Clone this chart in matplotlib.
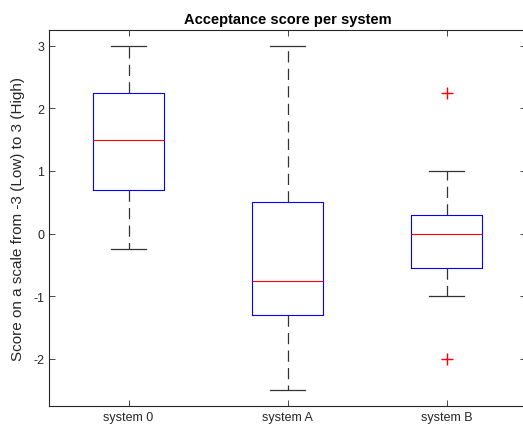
import matplotlib
matplotlib.use("Agg")
import matplotlib.pyplot as plt

# box statistics
systems = ["system 0", "system A", "system B"]
medians = [1.5, -0.75, 0.0]
q1 = [0.7, -1.3, -0.55]
q3 = [2.25, 0.5, 0.3]
whislo = [-0.25, -2.5, -1.0]
whishi = [3.0, 3.0, 1.0]
outliers = [[], [], [2.25, -2.0]]

plt.rcParams['font.family'] = ['Liberation Sans', 'DejaVu Sans']

stats = []
for i in range(len(systems)):
    stats.append(dict(label=systems[i], med=medians[i], q1=q1[i], q3=q3[i],
                      whislo=whislo[i], whishi=whishi[i], fliers=outliers[i]))

fig = plt.figure(figsize=(5.23, 4.35), dpi=100)
ax = fig.add_axes([49/523, 28/435, 477/523, 376/435])

ax.bxp(stats, widths=0.45, capwidths=0.225, showfliers=True,
       boxprops=dict(color='blue', linewidth=0.8),
       medianprops=dict(color='red', linewidth=0.8),
       whiskerprops=dict(color='#333333', linestyle=(0, (9, 5)), linewidth=0.9),
       capprops=dict(color='#333333', linewidth=0.9),
       flierprops=dict(marker='+', color='red', markeredgecolor='red',
                       markerfacecolor='red', markersize=8,
                       markeredgewidth=1.0, linestyle='none'))

ax.set_xlim(0.5, 3.5)
ax.set_ylim(-2.75, 3.25)
ax.set_yticks([-2, -1, 0, 1, 2, 3])
ax.set_yticklabels(['-2', '-1', '0', '1', '2', '3'])
ax.tick_params(direction='in', top=True, right=True, labelsize=9, colors='#262626', length=4, width=0.6)
for s in ax.spines.values():
    s.set_color('#262626')
    s.set_linewidth(0.8)

ax.set_title('Acceptance score per system', fontsize=10.5, fontweight='bold', pad=5)
ax.set_ylabel('Score on a scale from -3 (Low) to 3 (High)', fontsize=11, color='#262626', labelpad=6)

fig.savefig('out.png', dpi=100)
